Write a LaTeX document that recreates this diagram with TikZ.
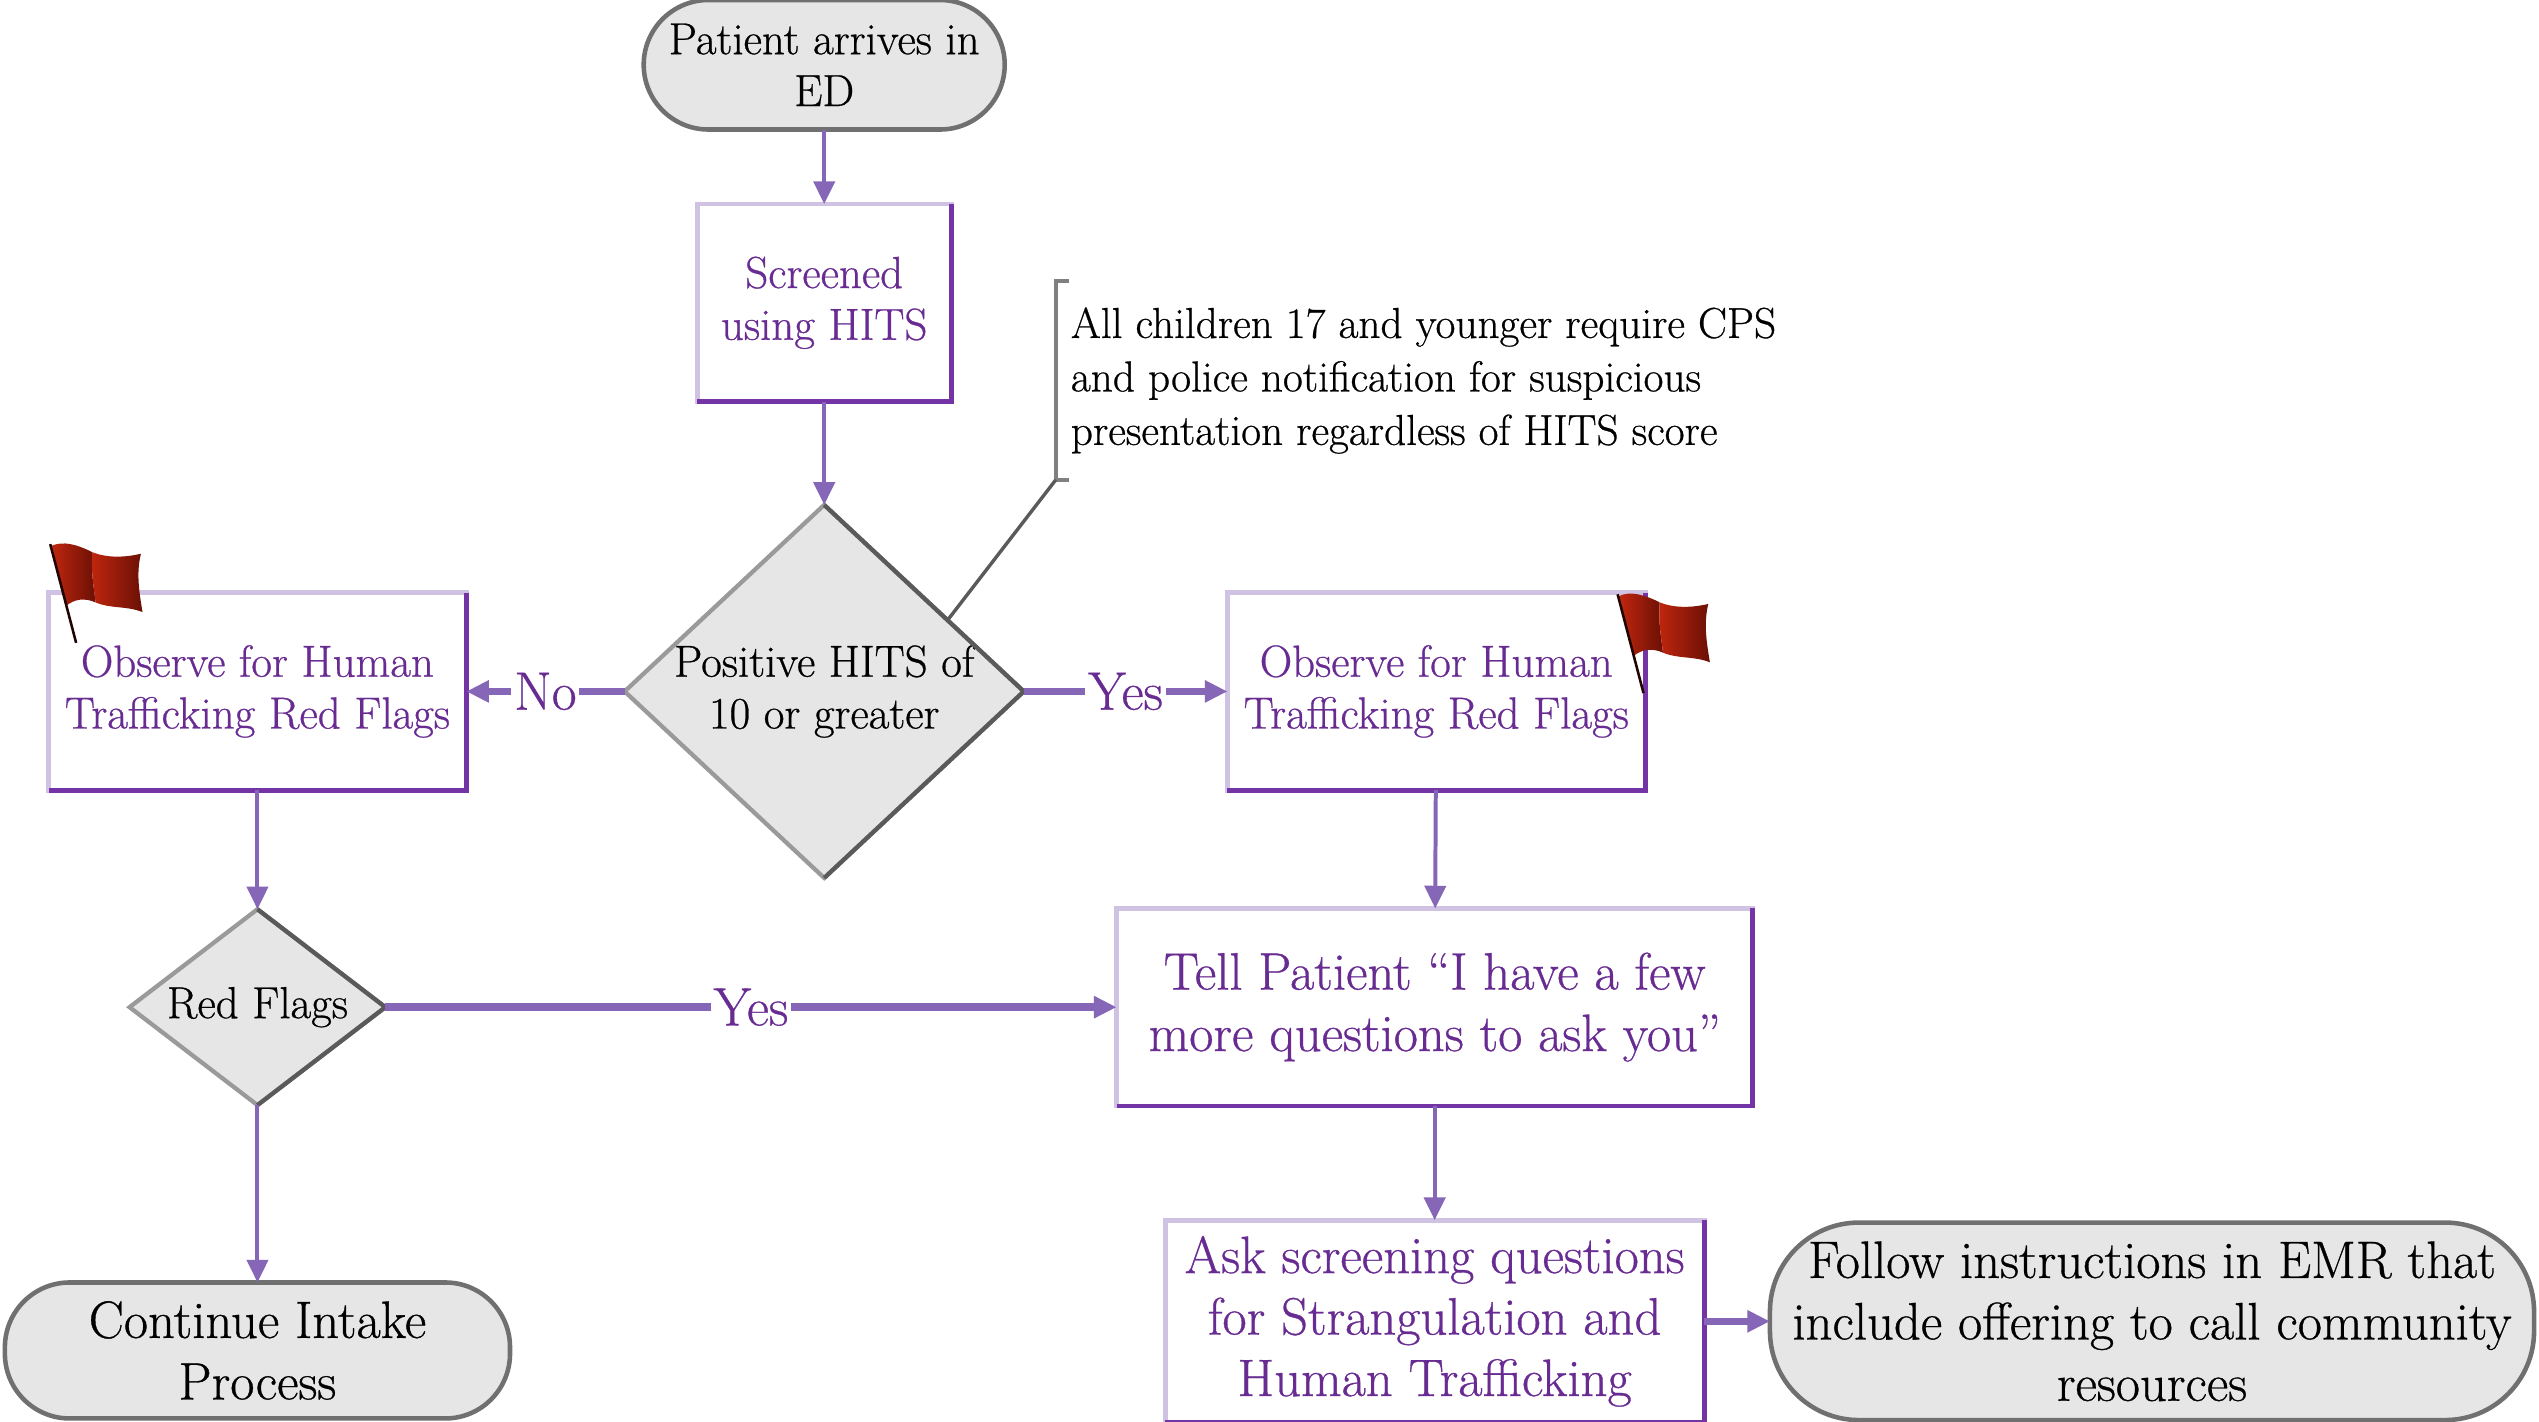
\documentclass[tikz,border=0pt]{standalone}
\usepackage{fontspec}
\setmainfont{Latin Modern Roman}[FakeBold=0.6]
\usetikzlibrary{shapes.geometric,arrows.meta}

\definecolor{txtpurple}{HTML}{682B92}
\definecolor{arrowpurple}{HTML}{8666B6}
\definecolor{boxlight}{HTML}{CFC2E2}
\definecolor{boxdark}{HTML}{7434A6}
\definecolor{termfill}{HTML}{E6E6E6}
\definecolor{termline}{HTML}{707070}
\definecolor{declight}{HTML}{9A9A9A}
\definecolor{decdark}{HTML}{5A5A5A}
\definecolor{flagred}{HTML}{C0260E}
\definecolor{flagdark}{HTML}{6A1005}

\tikzset{
  smalltext/.style={font=\fontsize{15.8}{18.2}\selectfont},
  bigtext/.style={font=\fontsize{18.5}{21.6}\selectfont},
  notetext/.style={font=\fontsize{15.2}{18.8}\selectfont},
  termstep/.style={rectangle, rounded corners=0.8cm, draw=termline,
    line width=1.6pt, fill=termfill, align=center, inner sep=0pt, outer sep=0pt},
  actstep/.style={rectangle, draw=boxlight, line width=1.7pt, fill=white, text=txtpurple,
    align=center, inner sep=0pt, outer sep=0pt},
  decstep/.style={diamond, draw=declight, line width=1.5pt, fill=termfill, align=center,
    inner sep=0pt, outer sep=0pt},
  flow/.style={draw=arrowpurple, line width=1.4pt, -{Triangle[length=0.28cm,width=0.26cm]}},
  flowthick/.style={flow, line width=2.6pt},
  flowlbl/.style={fill=white, text=txtpurple, inner sep=1pt, font=\fontsize{19}{21.6}\selectfont},
  redflag/.pic={
    \shade[left color=flagred, right color=flagdark] (1,1) .. controls (8,-2) and (16,0) .. (26,5)
      .. controls (25,17) and (27,27) .. (28,36) .. controls (21,33) and (15,34) .. (10,38) -- cycle;
    \shade[left color=flagred, right color=flagdark] (26,5) .. controls (36,9) and (47,8) .. (56,6)
      .. controls (53,18) and (55,30) .. (57,42) .. controls (47,38) and (37,40) .. (28,36)
      .. controls (27,27) and (25,17) .. (26,5) -- cycle;
    \draw[black!70!flagdark, line width=0.9pt] (0,0) -- (16,61);
  }
}

\begin{document}
\begin{tikzpicture}[x=0.02cm,y=-0.02cm]
\useasboundingbox (0,0) rectangle (1568,878);

% main column
\node[termstep, smalltext, minimum width=4.46cm, minimum height=1.6cm] (arrive) at (509,40) {Patient arrives in\\ED};
\node[actstep, smalltext, minimum width=3.14cm, minimum height=2.44cm] (screen) at (509,187) {Screened\\using HITS};
\node[decstep, smalltext, aspect=1.07, minimum width=4.88cm, minimum height=4.56cm] (hits) at (509,427) {Positive HITS of\\10 or greater};

% observe boxes
\node[actstep, smalltext, minimum width=5.16cm, minimum height=2.44cm] (obsL) at (159,427) {Observe for Human\\Trafficking Red Flags};
\node[actstep, smalltext, minimum width=5.16cm, minimum height=2.44cm] (obsR) at (887,427) {Observe for Human\\Trafficking Red Flags};

\node[decstep, smalltext, aspect=1.3, minimum width=3.16cm, minimum height=2.42cm] (redf) at (159,622) {Red Flags};
\node[actstep, bigtext, minimum width=7.86cm, minimum height=2.44cm] (tell) at (886,622) {Tell Patient “I have a few\\more questions to ask you”};
\node[actstep, bigtext, minimum width=6.66cm, minimum height=2.5cm] (ask) at (886,816) {Ask screening questions\\for Strangulation and\\Human Trafficking};

% end points
\node[termstep, bigtext, minimum width=6.24cm, minimum height=1.68cm] (cont) at (159,834) {Continue Intake\\Process};
\node[termstep, bigtext, rounded corners=1.1cm, minimum width=9.44cm, minimum height=2.44cm] (follow) at (1329,816) {Follow instructions in EMR that\\include offering to call community\\resources};

% darker edges
\foreach \n in {screen,obsL,obsR,tell,ask}
  \draw[boxdark, line width=1.7pt] (\n.north east) -- (\n.south east) -- (\n.south west);
\foreach \n in {hits,redf}
  \draw[decdark, line width=1.5pt] (\n.north) -- (\n.east) -- (\n.south);

% note
\node[notetext, anchor=west, align=left, minimum height=2.44cm, inner xsep=0.18cm, inner ysep=0pt] (note) at (652,235) {All children 17 and younger require CPS\\and police notification for suspicious\\presentation regardless of HITS score};
\draw[gray, line width=1.4pt] ([xshift=0.16cm]note.north west) -- (note.north west) -- (note.south west) -- ([xshift=0.16cm]note.south west);
\draw[decdark, line width=1.2pt] (note.south west) -- (hits.30);

% flags
\pic at ([shift={(1,-30)}]obsL.north west) {redflag};
\pic at ([shift={(-17,1)}]obsR.north east) {redflag};

% connectors
\draw[flow] (arrive) -- (screen);
\draw[flow] (screen) -- (hits);
\draw[flowthick] (hits) -- node[flowlbl] {No} (obsL);
\draw[flowthick] (hits) -- node[flowlbl] {Yes} (obsR);
\draw[flow] (obsL) -- (redf);
\draw[flow] (obsR) -- (tell);
\draw[flowthick] (redf) -- node[flowlbl] {Yes} (tell);
\draw[flow] (redf) -- (cont);
\draw[flow] (tell) -- (ask);
\draw[flowthick] (ask) -- (follow);
\end{tikzpicture}
\end{document}
